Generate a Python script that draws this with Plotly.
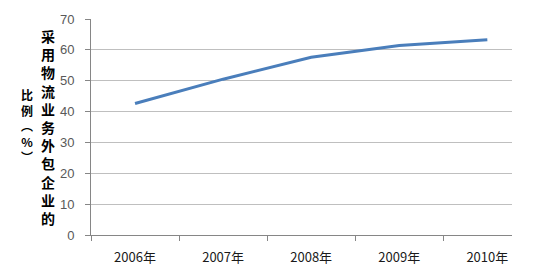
import plotly.graph_objects as go

categories = ["2006年", "2007年", "2008年", "2009年", "2010年"]
values = [42.6, 50.5, 57.6, 61.4, 63.3]
y_ticks = [0, 10, 20, 30, 40, 50, 60, 70]
title_right = list("采用物流业务外包企业的")
title_left = ["比", "例", "︵", "%", "︶"]

fig = go.Figure()
fig.add_trace(go.Scatter(
    x=list(range(len(categories))), y=values, mode="lines",
    line=dict(color="#4A7EBB", width=3),
    showlegend=False, hoverinfo="skip"))

W, H = 537, 278
ml, mr, mt, mb = 91, 25, 17, 42
ph = H - mt - mb

def col(chars, x_px, center, size):
    return dict(
        text="<b>" + "<br>".join(chars) + "</b>",
        x=(x_px - ml) / (W - ml - mr), xref="paper",
        y=1 - (center - mt) / ph, yref="paper", showarrow=False,
        xanchor="center", yanchor="middle", align="center",
        font=dict(family="Noto Sans CJK SC", size=size, color="#000000"))

annotations = [col(title_right, 47.5, 127, 14), col(title_left, 26.5, 125, 12)]

fig.update_layout(
    width=W, height=H, margin=dict(l=ml, r=mr, t=mt, b=mb),
    paper_bgcolor="white", plot_bgcolor="white",
    font=dict(family="Noto Sans CJK SC", size=12, color="#404040"),
    annotations=annotations,
    xaxis=dict(
        range=[-0.5, 4.28], tickmode="array",
        tickvals=list(range(len(categories))), ticktext=categories,
        showgrid=False, zeroline=False, showline=True, linecolor="#868686",
        linewidth=1, ticks="", tickfont=dict(size=13, color="#1a1a1a"),
        ticklabelstandoff=10, fixedrange=True),
    yaxis=dict(
        range=[0, 70], tickmode="array", tickvals=y_ticks,
        showgrid=True, gridcolor="#bfbfbf", gridwidth=1, zeroline=False,
        showline=True, linecolor="#868686", linewidth=1,
        ticks="outside", ticklen=5, tickcolor="#868686",
        tickfont=dict(family="Liberation Sans", size=13, color="#595959"),
        ticklabelstandoff=8),
)

fig.update_layout(xaxis2=dict(
    overlaying="x", matches="x", tickmode="array",
    tickvals=[-0.5, 0.5, 1.5, 2.5, 3.5], ticktext=[""] * 5,
    ticks="outside", ticklen=5, tickcolor="#868686",
    showgrid=False, zeroline=False, showline=False, side="bottom"))
fig.add_trace(go.Scatter(x=[None], y=[None], xaxis="x2", showlegend=False))

fig.write_html("out.html")
